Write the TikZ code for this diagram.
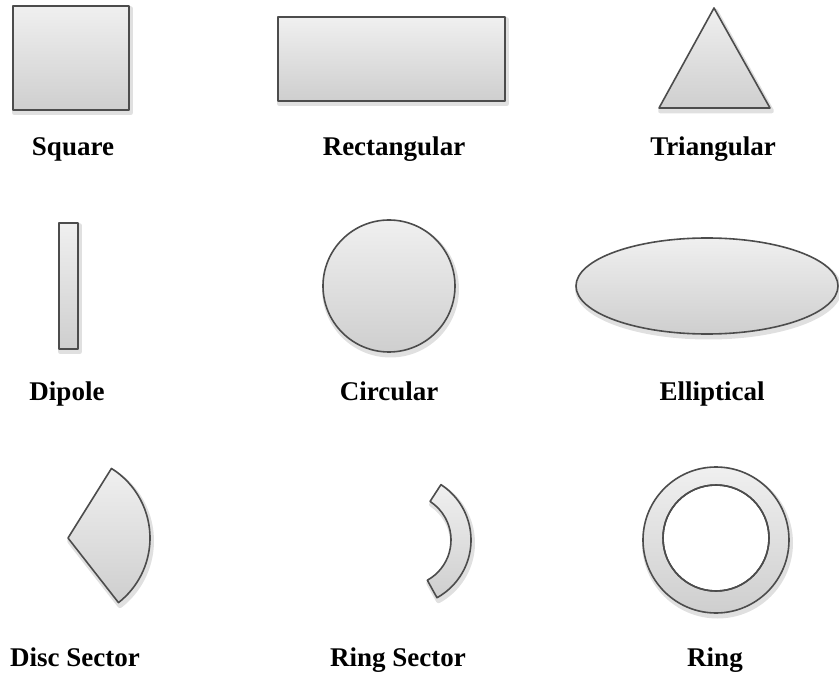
\documentclass[tikz,border=0pt]{standalone}
\usepackage{fontspec}
\setmainfont{Liberation Serif}
\begin{document}
\begin{tikzpicture}[x=1pt,y=-1pt,
  shp/.style={top color=gray!12,bottom color=gray!38,draw=black!70,line width=1.6pt,line join=round},
  shd/.style={draw=black!12,line width=5pt,line join=round,fill=black!8},
  lbl/.style={anchor=base,font=\fontsize{27}{30}\selectfont\bfseries,inner sep=0pt}]
\useasboundingbox (0,0) rectangle (839,679);
% shadows
\begin{scope}[shift={(1.5,3)}]
\path[shd] (13,6) rectangle (129,110);
\path[shd] (278,17) rectangle (505,101);
\path[shd] (714,8) -- (659,108) -- (770,108) -- cycle;
\path[shd] (59,223) rectangle (78,349);
\path[shd] (389,286) circle[radius=66pt];
\path[shd] (707,286) ellipse[x radius=131pt,y radius=48pt];
\path[shd] (68,538) -- ++(58:82pt) arc[start angle=58,end angle=-52,radius=82pt] -- cycle;
\path[shd] (405,540) ++(57:66pt) arc[start angle=57,end angle=-61,radius=66pt] -- ++(-61:-20pt) arc[start angle=-61,end angle=57,radius=46pt] -- cycle;
\path[shd,even odd rule,fill=none] (716,540) circle[radius=73pt];
\end{scope}
% shapes
\path[shp] (13,6) rectangle (129,110) node[pos=.5] (sq) {};
\path[shp] (278,17) rectangle (505,101) node[pos=.5] (re) {};
\path[shp] (714,8) -- (659,108) -- (770,108) -- cycle;
\coordinate (tr) at (714,70);
\path[shp] (59,223) rectangle (78,349) node[pos=.5] (di) {};
\path[shp] (389,286) circle[radius=66pt];
\coordinate (ci) at (389,286);
\path[shp] (707,286) ellipse[x radius=131pt,y radius=48pt];
\coordinate (el) at (707,286);
\path[shp] (68,538) -- ++(58:82pt) arc[start angle=58,end angle=-52,radius=82pt] -- cycle;
\coordinate (ds) at (100,538);
\path[shp] (405,540) ++(57:66pt) arc[start angle=57,end angle=-61,radius=66pt] -- ++(-61:-20pt) arc[start angle=-61,end angle=57,radius=46pt] -- cycle;
\coordinate (rs) at (450,540);
\path[shp,even odd rule] (716,540) circle[radius=73pt] (716,538) circle[radius=53pt];
\draw[black!70,line width=1.6pt] (716,538) circle[radius=53pt];
\coordinate (ri) at (716,540);
% labels
\node[lbl] (lsq) at (73,156) {Square};
\node[lbl] (lre) at (394,156) {Rectangular};
\node[lbl] (ltr) at (713,156) {Triangular};
\node[lbl] (ldi) at (67,400) {Dipole};
\node[lbl] (lci) at (389,400) {Circular};
\node[lbl] (lel) at (712,400) {Elliptical};
\node[lbl] (lds) at (75,666) {Disc Sector};
\node[lbl] (lrs) at (398,666) {Ring Sector};
\node[lbl] (lri) at (715,666) {Ring};
\end{tikzpicture}
\end{document}
